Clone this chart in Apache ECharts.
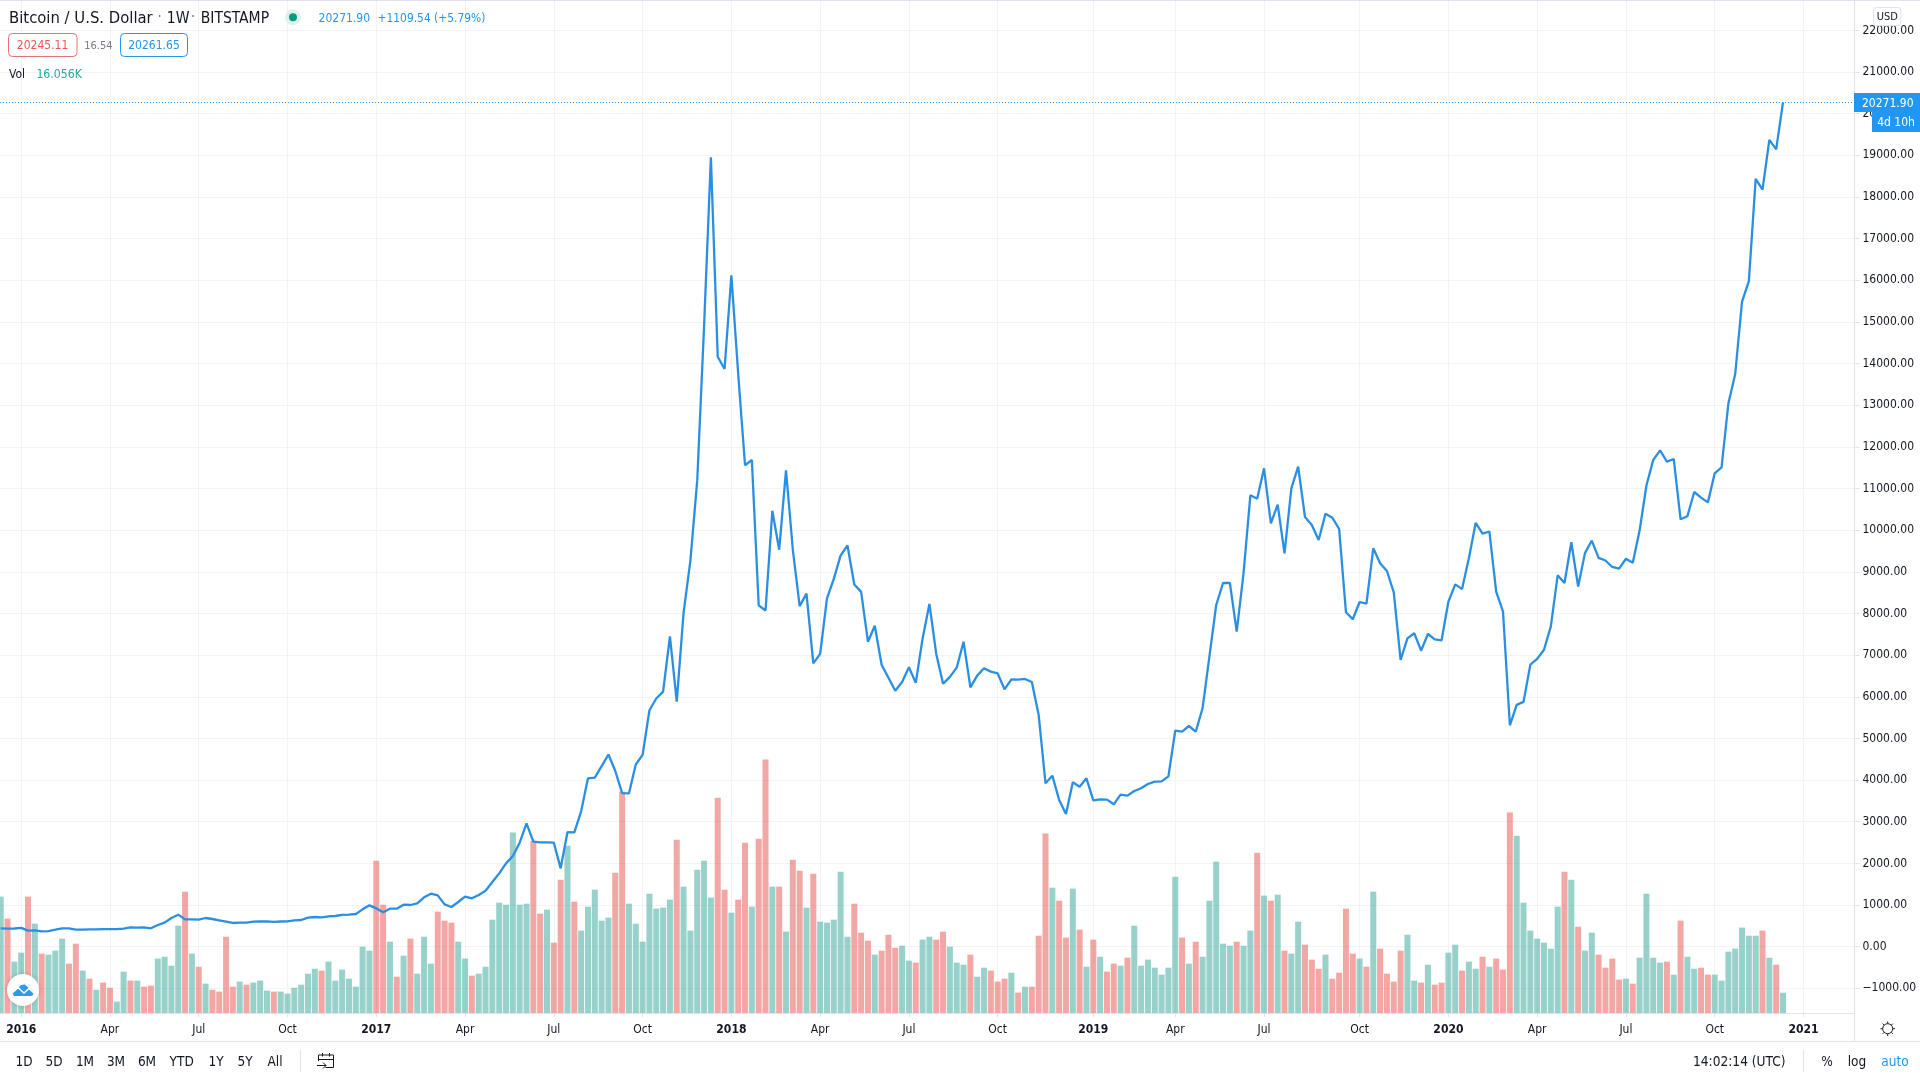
<!DOCTYPE html>
<html><head><meta charset="utf-8">
<style>html,body{margin:0;padding:0;background:#fff}#c{width:1920px;height:1080px}</style>
<script src="https://cdn.jsdelivr.net/npm/echarts@6/dist/echarts.min.js"></script>
</head><body><div id="c"></div>
<script>
// Weekly close, USD (Dec 2015 .. Nov 2020)
const closePrice = [
441,434,437,453,385,392,368,376,408,441,
441,408,408,416,416,424,424,424,432,465,
456,465,441,521,577,689,769,657,657,649,
689,665,633,601,569,577,577,601,605,609,
597,605,609,633,641,697,713,705,729,737,
765,769,785,897,993,921,825,913,913,1009,
1001,1041,1185,1273,1233,1017,953,1073,1201,1161,
1241,1345,1553,1761,2001,2177,2497,2961,2521,2505,
2505,2497,1881,2753,2745,3251,4043,4059,4334,4615,
4219,3688,3680,4375,4605,5678,5959,6125,7448,5885,
8019,9270,11196,14891,18953,14164,13871,16120,13746,11560,
11686,8197,8072,10466,9530,11436,9530,8176,8478,6802,
7030,8363,8831,9395,9633,8697,8519,7323,7707,6771,
6458,6146,6355,6708,6334,7395,8228,7030,6312,6478,
6699,7323,6228,6509,6687,6605,6560,6180,6420,6412,
6428,6355,5563,3923,4106,3522,3186,3947,3842,4043,
3515,3539,3531,3419,3650,3626,3738,3803,3906,3962,
3970,4091,5186,5162,5299,5162,5724,6963,8204,8732,
8732,7563,8965,10838,10756,11486,10166,10612,9445,11006,
11525,10317,10125,9765,10397,10300,10029,8029,7861,8276,
8235,9565,9205,9020,8509,6884,7404,7525,7107,7508,
7380,7357,8283,8699,8586,9325,10178,9918,9969,8523,
8043,5316,5806,5878,6773,6910,7129,7690,8917,8732,
9710,8648,9450,9751,9335,9273,9117,9076,9314,9220,
9991,11074,11688,11916,11647,11710,10262,10334,10917,10783,
10668,11366,11510,13042,13750,15489,15979,18435,18176,19371,
19143,20271.90];
// Weekly volume, thousands of BTC
const volumeK = [
92.0,74.6,40.6,47.7,92.0,70.6,46.9,46.1,49.3,58.8,
39.0,54.8,33.5,27.1,18.4,24.0,20.0,9.0,32.7,25.6,
25.6,20.8,21.6,43.0,44.5,37.4,69.0,95.9,46.9,36.6,
23.2,18.4,16.9,60.3,20.8,24.8,22.4,24.0,25.6,17.7,
16.9,16.9,15.3,20.0,22.4,31.1,35.0,33.5,40.6,25.6,
34.3,27.1,20.8,52.4,49.3,120.4,85.6,56.4,28.7,45.3,
58.8,31.1,60.3,39.0,80.1,73.0,71.4,56.4,43.0,29.5,
31.1,36.6,73.8,87.2,85.6,142.6,85.6,86.4,136.2,78.5,
81.7,55.6,105.4,132.3,88.0,65.1,84.1,97.5,73.0,75.4,
110.9,175.0,86.4,70.6,56.4,94.3,82.5,83.3,89.6,137.0,
99.9,65.1,113.3,120.4,91.2,170.2,97.5,79.3,89.6,134.6,
84.1,137.8,200.3,99.9,99.9,64.3,121.2,112.5,83.3,110.1,
72.2,71.4,73.8,111.7,60.3,86.4,63.5,57.2,46.1,49.3,
61.9,51.6,53.2,41.4,39.8,58.0,60.3,58.0,64.3,52.4,
39.8,38.2,46.1,28.7,35.8,33.5,24.8,27.1,31.9,16.1,
20.8,20.8,61.1,141.8,99.1,88.8,59.6,98.3,65.9,36.6,
58.0,44.5,32.7,39.0,37.4,43.7,69.0,37.4,42.2,35.8,
30.3,35.8,107.8,59.6,39.0,56.4,44.5,88.8,119.6,54.8,
53.2,56.4,53.2,65.1,126.7,92.8,88.8,93.5,49.3,46.9,
72.2,54.0,42.2,35.0,46.1,27.1,31.9,82.5,46.9,43.0,
36.6,95.9,50.9,31.1,24.8,49.3,61.9,25.6,24.0,38.2,
22.4,24.0,47.7,54.0,33.5,40.6,35.0,44.5,36.6,43.0,
34.3,158.4,140.2,87.2,65.1,58.8,55.6,50.9,84.1,111.7,
105.4,68.2,49.3,63.5,46.1,35.8,43.0,26.4,27.1,23.2,
43.7,94.3,43.7,39.8,40.6,30.3,73.0,44.5,35.0,35.8,
30.3,30.3,25.6,48.5,50.9,67.5,61.1,61.1,65.1,43.7,
38.2,16.056];
// Weekly direction: u = up week, d = down week
const direction =
"uduududuuu"+"ddududduud"+"udduuuudud"+"udddduduuu"+"duuuuuuduu"+"uuuuuddudu"+
"duuuddduud"+"uuuuuuuudd"+"udduduuuuu"+"dduuuuuuud"+"uuuuuddudd"+
"uddududdud"+"uuuuudddud"+"dduuduuddu"+"uuduudddud"+"uddduddudu"+
"dudduduuuu"+"uuududuuuu"+"uduudududu"+"uddduddddu"+"dudddduudu"+
"dduuduudud"+"dduuuuuuud"+"uduuddddud"+"uuuududuud"+"duuuuuuudu"+"du";

const tickWeeks = [3,16,29,42,55,68,81,94,107,120,133,146,160,172,185,199,212,225,238,251,264];
const tickLabels = ["2016","Apr","Jul","Oct","2017","Apr","Jul","Oct","2018","Apr","Jul","Oct","2019","Apr","Jul","Oct","2020","Apr","Jul","Oct","2021"];
const priceTicks = [-1000,0,1000,2000,3000,4000,5000,6000,7000,8000,9000,10000,11000,12000,13000,14000,15000,16000,17000,18000,19000,20000,21000,22000];
const lastPrice = 20271.90;
const rangeButtons = ["1D","5D","1M","3M","6M","YTD","1Y","5Y","All"];

const FONT = '"DejaVu Sans Condensed","Noto Sans",sans-serif';
const INK = '#131722', BLUE = '#2196f3', LINE = '#e0e3eb', GRID = '#f1f3f6';

function txt(text, x, y, size, fill, align, weight) {
  return {type:'text', z:50, silent:true, style:{text, x, y, fill, font:(weight||'normal')+' '+size+'px '+FONT,
    align:align||'left', verticalAlign:'middle', textAlign:align||'left', textVerticalAlign:'middle'}};
}
function box(x,y,w,h,fill,stroke,r){
  return {type:'rect', z:40, silent:true, shape:{x,y,width:w,height:h,r:r||0}, style:{fill,stroke:stroke||null,lineWidth:1}};
}
function seg(x1,y1,x2,y2,c,w){
  return {type:'line', z:45, silent:true, shape:{x1,y1,x2,y2}, style:{stroke:c||LINE,lineWidth:w||1}};
}
function poly(points,c,w){
  return {type:'polyline', z:52, silent:true, shape:{points}, style:{fill:null,stroke:c||INK,lineWidth:w||1}};
}

const rangeX = [24,54,85,116,147,181.7,216,245,275];
const chrome = [
  seg(0,0.5,1920,0.5),
  seg(0,1041.5,1920,1041.5),
  seg(1854.5,1013,1854.5,1041),
  // header
  txt('Bitcoin / U.S. Dollar',9,18.5,16.5,INK),
  txt('·',159.6,18,15,'#787b86','center'),
  txt('1W',166.8,18.5,15.5,INK),
  txt('·',193,18,15,'#787b86','center'),
  txt('BITSTAMP',200.7,18.5,15.5,INK),
  {type:'circle',z:40,silent:true,shape:{cx:293,cy:17.3,r:8},style:{fill:'#dff1ee'}},
  {type:'circle',z:41,silent:true,shape:{cx:293,cy:17.3,r:4},style:{fill:'#089981'}},
  txt('20271.90',318.6,19,12,BLUE),
  txt('+1109.54 (+5.79%)',377.5,19,11.9,BLUE),
  box(8.5,33.5,68.5,23,'#fff','#e57373',4),
  txt('20245.11',42.6,46,12,'#ef5350','center'),
  txt('16.54',98.4,46,11,'#787b86','center'),
  box(120.5,33.5,67,23,'#fff',BLUE,4),
  txt('20261.65',154,46,12,BLUE,'center'),
  txt('Vol',9,74.5,12,INK),
  txt('16.056K',36.4,74.5,12.2,'#26a69a'),
  // price scale badges
  box(1873.5,7.5,27.5,18,'#fff',LINE,3),
  txt('USD',1887.3,17.5,11,INK,'center'),
  box(1854,93,66,19,BLUE),
  txt('20271.90',1862,103.5,12,'#fff'),
  box(1872,112,48,20,BLUE),
  txt('4d 10h',1896,123,12,'#fff','center'),
  // logo
  {type:'circle',z:40,silent:true,shape:{cx:23,cy:990,r:16},style:{fill:'#fff',shadowBlur:4,shadowColor:'rgba(0,0,0,0.18)'}},
  {type:'polygon',z:51,silent:true,shape:{points:[[14,996],[12.5,993.5],[14,991.5],[16,990.5],[18,988],[21,985],[25,984.5],[27,986.5],[29,988],[32,990],[34,992.5],[33,995],[31,996]]},style:{fill:'#2e9bea'}},
  poly([[12,993],[18,987.5],[24,993],[29,988.5],[35,994]],'#fff',1.6),
  // settings icon
  {type:'circle',z:50,silent:true,shape:{cx:1887.7,cy:1028.7,r:5},style:{fill:null,stroke:INK,lineWidth:1}},
  seg(1887.7,1021.5,1887.7,1023.5,INK), seg(1887.7,1034,1887.7,1036,INK),
  seg(1880.5,1028.7,1882.5,1028.7,INK), seg(1893,1028.7,1895,1028.7,INK),
  seg(1882.6,1023.6,1884,1025,INK), seg(1891.4,1032.4,1892.8,1033.8,INK),
  seg(1882.6,1033.8,1884,1032.4,INK), seg(1891.4,1025,1892.8,1023.6,INK),
  // bottom toolbar
  seg(300.5,1050,300.5,1072),
  seg(1803.5,1050,1803.5,1072),
  poly([[318.5,1061],[318.5,1055],[333.5,1055],[333.5,1067.5],[325.5,1067.5]]),
  seg(322.5,1053,322.5,1056.5,INK), seg(329.5,1053,329.5,1056.5,INK),
  seg(318.5,1059.5,333.5,1059.5,INK), seg(317,1065.5,326,1065.5,INK),
  poly([[323,1062.5],[326,1065.5],[323,1068.5]]),
  txt('14:02:14 (UTC)',1693,1062.5,13.6,INK),
  txt('%',1827,1062.5,13.5,INK,'center'),
  txt('log',1857,1062.5,13.5,INK,'center'),
  txt('auto',1895,1062.5,13.5,BLUE,'center')
];
rangeButtons.forEach((b,i)=>chrome.push(txt(b,rangeX[i],1062.5,13.5,INK,'center')));

const chart = echarts.init(document.getElementById('c'), null, {width:1920,height:1080});
const volData = volumeK.map((v,i)=>[i,v]);
const priceData = closePrice.map((v,i)=>[i,v]);

chart.setOption({
  animation:false,
  backgroundColor:'#ffffff',
  textStyle:{fontFamily:FONT},
  grid:{left:0,right:65.5,top:1,bottom:67,containLabel:false},
  xAxis:{
    type:'value', min:-0.1025, max:271.47,
    axisLine:{show:true,onZero:false,lineStyle:{color:LINE,width:1}},
    axisTick:{show:true,length:4,lineStyle:{color:LINE},customValues:tickWeeks},
    splitLine:{show:true,lineStyle:{color:GRID,width:1}},
    axisLabel:{
      customValues:tickWeeks, margin:11, color:INK, fontSize:12, fontFamily:FONT,
      hideOverlap:false,
      formatter:function(v){
        const s = tickLabels[tickWeeks.indexOf(v)] || '';
        return /^\d/.test(s) ? '{y|'+s+'}' : s;
      },
      rich:{y:{fontWeight:'bold',fontSize:12,color:INK,fontFamily:FONT}}
    }
  },
  yAxis:[{
    type:'value', position:'right', min:-1592, max:22706, scale:true,
    axisLine:{show:true,onZero:false,lineStyle:{color:LINE,width:1}},
    axisTick:{show:true,length:5,lineStyle:{color:LINE},customValues:priceTicks},
    splitLine:{show:true,lineStyle:{color:GRID,width:1}},
    axisLabel:{
      customValues:priceTicks, inside:false, margin:8, color:INK, fontSize:12, fontFamily:FONT,
      align:'left', padding:[2,0,0,0],
      formatter:v=>(v<0?'−':'')+Math.abs(v).toFixed(2)
    }
  },{
    type:'value', min:0, max:800, show:false, splitLine:{show:false}
  }],
  series:[{
    type:'bar', name:'Vol', xAxisIndex:0, yAxisIndex:1, data:volData, barWidth:6, z:1,
    itemStyle:{color:p=>direction[p.dataIndex]==='u'?'rgba(48,163,147,0.5)':'rgba(231,79,75,0.5)'}
  },{
    type:'line', name:'Close', xAxisIndex:0, yAxisIndex:0, data:priceData, z:3,
    showSymbol:false, smooth:false, lineStyle:{color:'#2a8fe3',width:2.3}, itemStyle:{color:BLUE},
    markLine:{silent:true,symbol:'none',label:{show:false},animation:false,
      lineStyle:{color:BLUE,type:[1,2],width:1},data:[{yAxis:lastPrice}]}
  }],
  graphic:{elements:chrome}
});
</script></body></html>
